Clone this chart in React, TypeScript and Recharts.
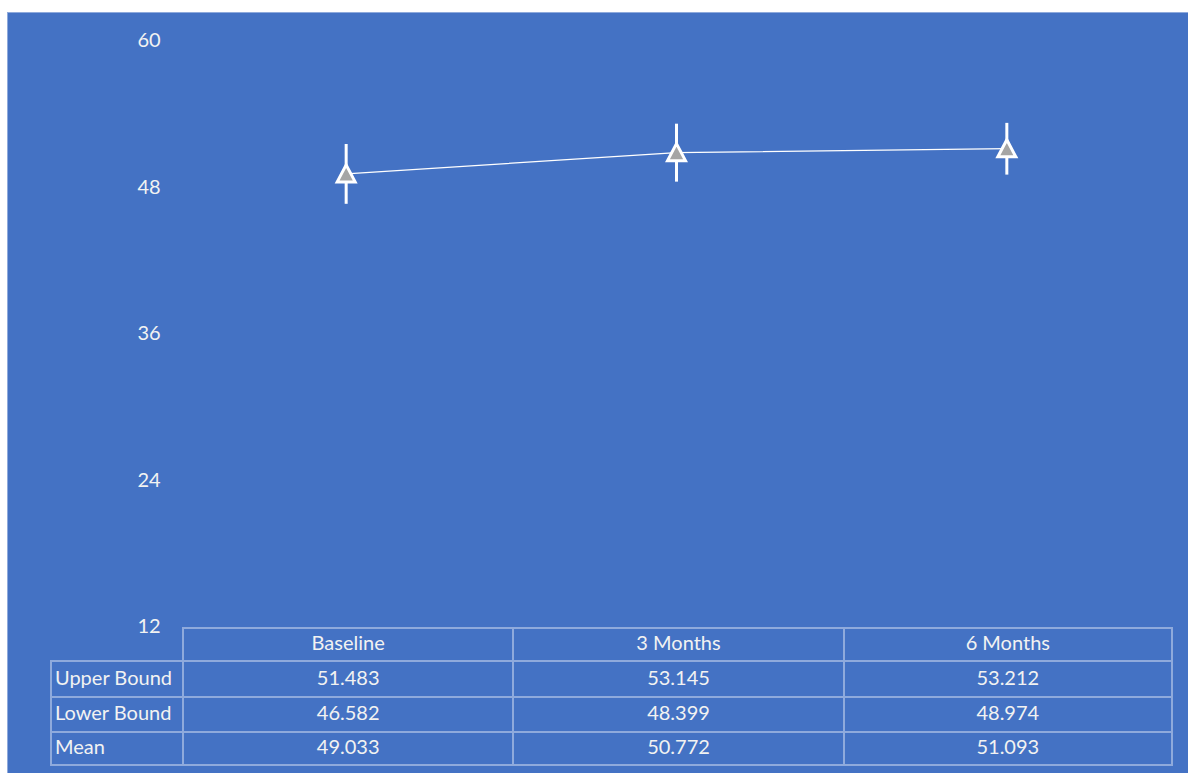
import React from 'react';
import { ComposedChart, Line, XAxis, YAxis, ErrorBar } from 'recharts';

const categories = ['Baseline', '3 Months', '6 Months'];
const upperBound = [51.483, 53.145, 53.212];
const lowerBound = [46.582, 48.399, 48.974];
const meanValues = [49.033, 50.772, 51.093];
const yTicks = [12, 24, 36, 48, 60];

const data = categories.map((name, i) => ({
  name,
  mean: meanValues[i],
  err: [meanValues[i] - lowerBound[i], upperBound[i] - meanValues[i]],
}));

const W = 1181;
const H = 761;
const BG = '#4472C4';
const GRID = '#8FAADC';
const TEXT = '#F2F2F2';
const FONT = 'Lato, "Open Sans", sans-serif';
const margin = { top: 28, right: 16, bottom: 147, left: 114 };
const Y_AXIS_W = 60;
const plotLeft = margin.left + Y_AXIS_W;
const plotWidth = W - plotLeft - margin.right;
const colW = plotWidth / categories.length;
const labelColLeft = 42;

const YTick = (props: any) => {
  const { x, y, payload } = props;
  return (
    <text x={x} y={y} dy="0.36em" textAnchor="middle" fill={TEXT} fontSize={20} fontFamily={FONT}>
      {payload.value}
    </text>
  );
};

const TriangleDot = (props: any) => {
  const { cx, cy, index } = props;
  if (cx == null || cy == null) return null;
  const pts = `${cx},${cy - 9} ${cx - 9},${cy + 8} ${cx + 9},${cy + 8}`;
  return (
    <polygon key={`tri-${index}`} points={pts} fill="#A5A5A5" stroke="#FFFFFF" strokeWidth={3} strokeLinejoin="miter" />
  );
};

const rows = [
  { label: 'Upper Bound', values: upperBound, h: 36 },
  { label: 'Lower Bound', values: lowerBound, h: 35 },
  { label: 'Mean', values: meanValues, h: 35 },
];
const headerTop = 614;
const headerH = 33;
const cellText: React.CSSProperties = {
  color: TEXT,
  fontFamily: FONT,
  fontSize: 20,
  lineHeight: 1,
  position: 'absolute',
  display: 'flex',
  alignItems: 'center',
  boxSizing: 'border-box',
  paddingBottom: 5,
};
const line = 2;

export default function App() {
  const cells: React.ReactNode[] = [];
  // header cells
  categories.forEach((c, i) => {
    cells.push(
      <div
        key={`h-${i}`}
        style={{
          ...cellText,
          left: plotLeft + i * colW,
          top: headerTop,
          width: colW,
          height: headerH,
          justifyContent: 'center',
          borderTop: `${line}px solid ${GRID}`,
          borderLeft: `${line}px solid ${GRID}`,
          borderRight: i === categories.length - 1 ? `${line}px solid ${GRID}` : undefined,
        }}
      >
        {c}
      </div>
    );
  });
  let top = headerTop + headerH;
  rows.forEach((r, ri) => {
    const last = ri === rows.length - 1;
    cells.push(
      <div
        key={`l-${ri}`}
        style={{
          ...cellText,
          left: labelColLeft,
          top,
          width: plotLeft - labelColLeft,
          height: r.h,
          paddingLeft: 3,
          borderTop: `${line}px solid ${GRID}`,
          borderLeft: `${line}px solid ${GRID}`,
          borderBottom: last ? `${line}px solid ${GRID}` : undefined,
        }}
      >
        {r.label}
      </div>
    );
    r.values.forEach((v, i) => {
      cells.push(
        <div
          key={`c-${ri}-${i}`}
          style={{
            ...cellText,
            left: plotLeft + i * colW,
            top,
            width: colW,
            height: r.h,
            justifyContent: 'center',
            borderTop: `${line}px solid ${GRID}`,
            borderLeft: `${line}px solid ${GRID}`,
            borderRight: i === r.values.length - 1 ? `${line}px solid ${GRID}` : undefined,
            borderBottom: last ? `${line}px solid ${GRID}` : undefined,
          }}
        >
          {v.toFixed(3)}
        </div>
      );
    });
    top += r.h;
  });

  return (
    <div
      style={{
        position: 'absolute',
        left: 7,
        top: 12,
        width: W,
        height: H,
        background: BG,
        borderTop: `1px solid ${GRID}`,
        borderLeft: `1px solid ${GRID}`,
        boxSizing: 'border-box',
        overflow: 'hidden',
      }}
    >
      <div style={{ position: 'absolute', left: -1, top: -1 }}>
        <ComposedChart width={W} height={H} data={data} margin={margin}>
          <XAxis dataKey="name" hide padding={{ left: colW / 2, right: colW / 2 }} />
          <YAxis
            width={Y_AXIS_W}
            domain={[12, 60]}
            ticks={yTicks}
            interval={0}
            axisLine={false}
            tickLine={false}
            tickSize={0}
            tickMargin={32}
            tick={<YTick />}
          />
          <Line
            dataKey="mean"
            stroke="#FFFFFF"
            strokeWidth={1.25}
            dot={<TriangleDot />}
            activeDot={false}
            isAnimationActive={false}
          >
            <ErrorBar dataKey="err" width={0} stroke="#FFFFFF" strokeWidth={3} direction="y" />
          </Line>
        </ComposedChart>
      </div>
      {cells}
    </div>
  );
}
